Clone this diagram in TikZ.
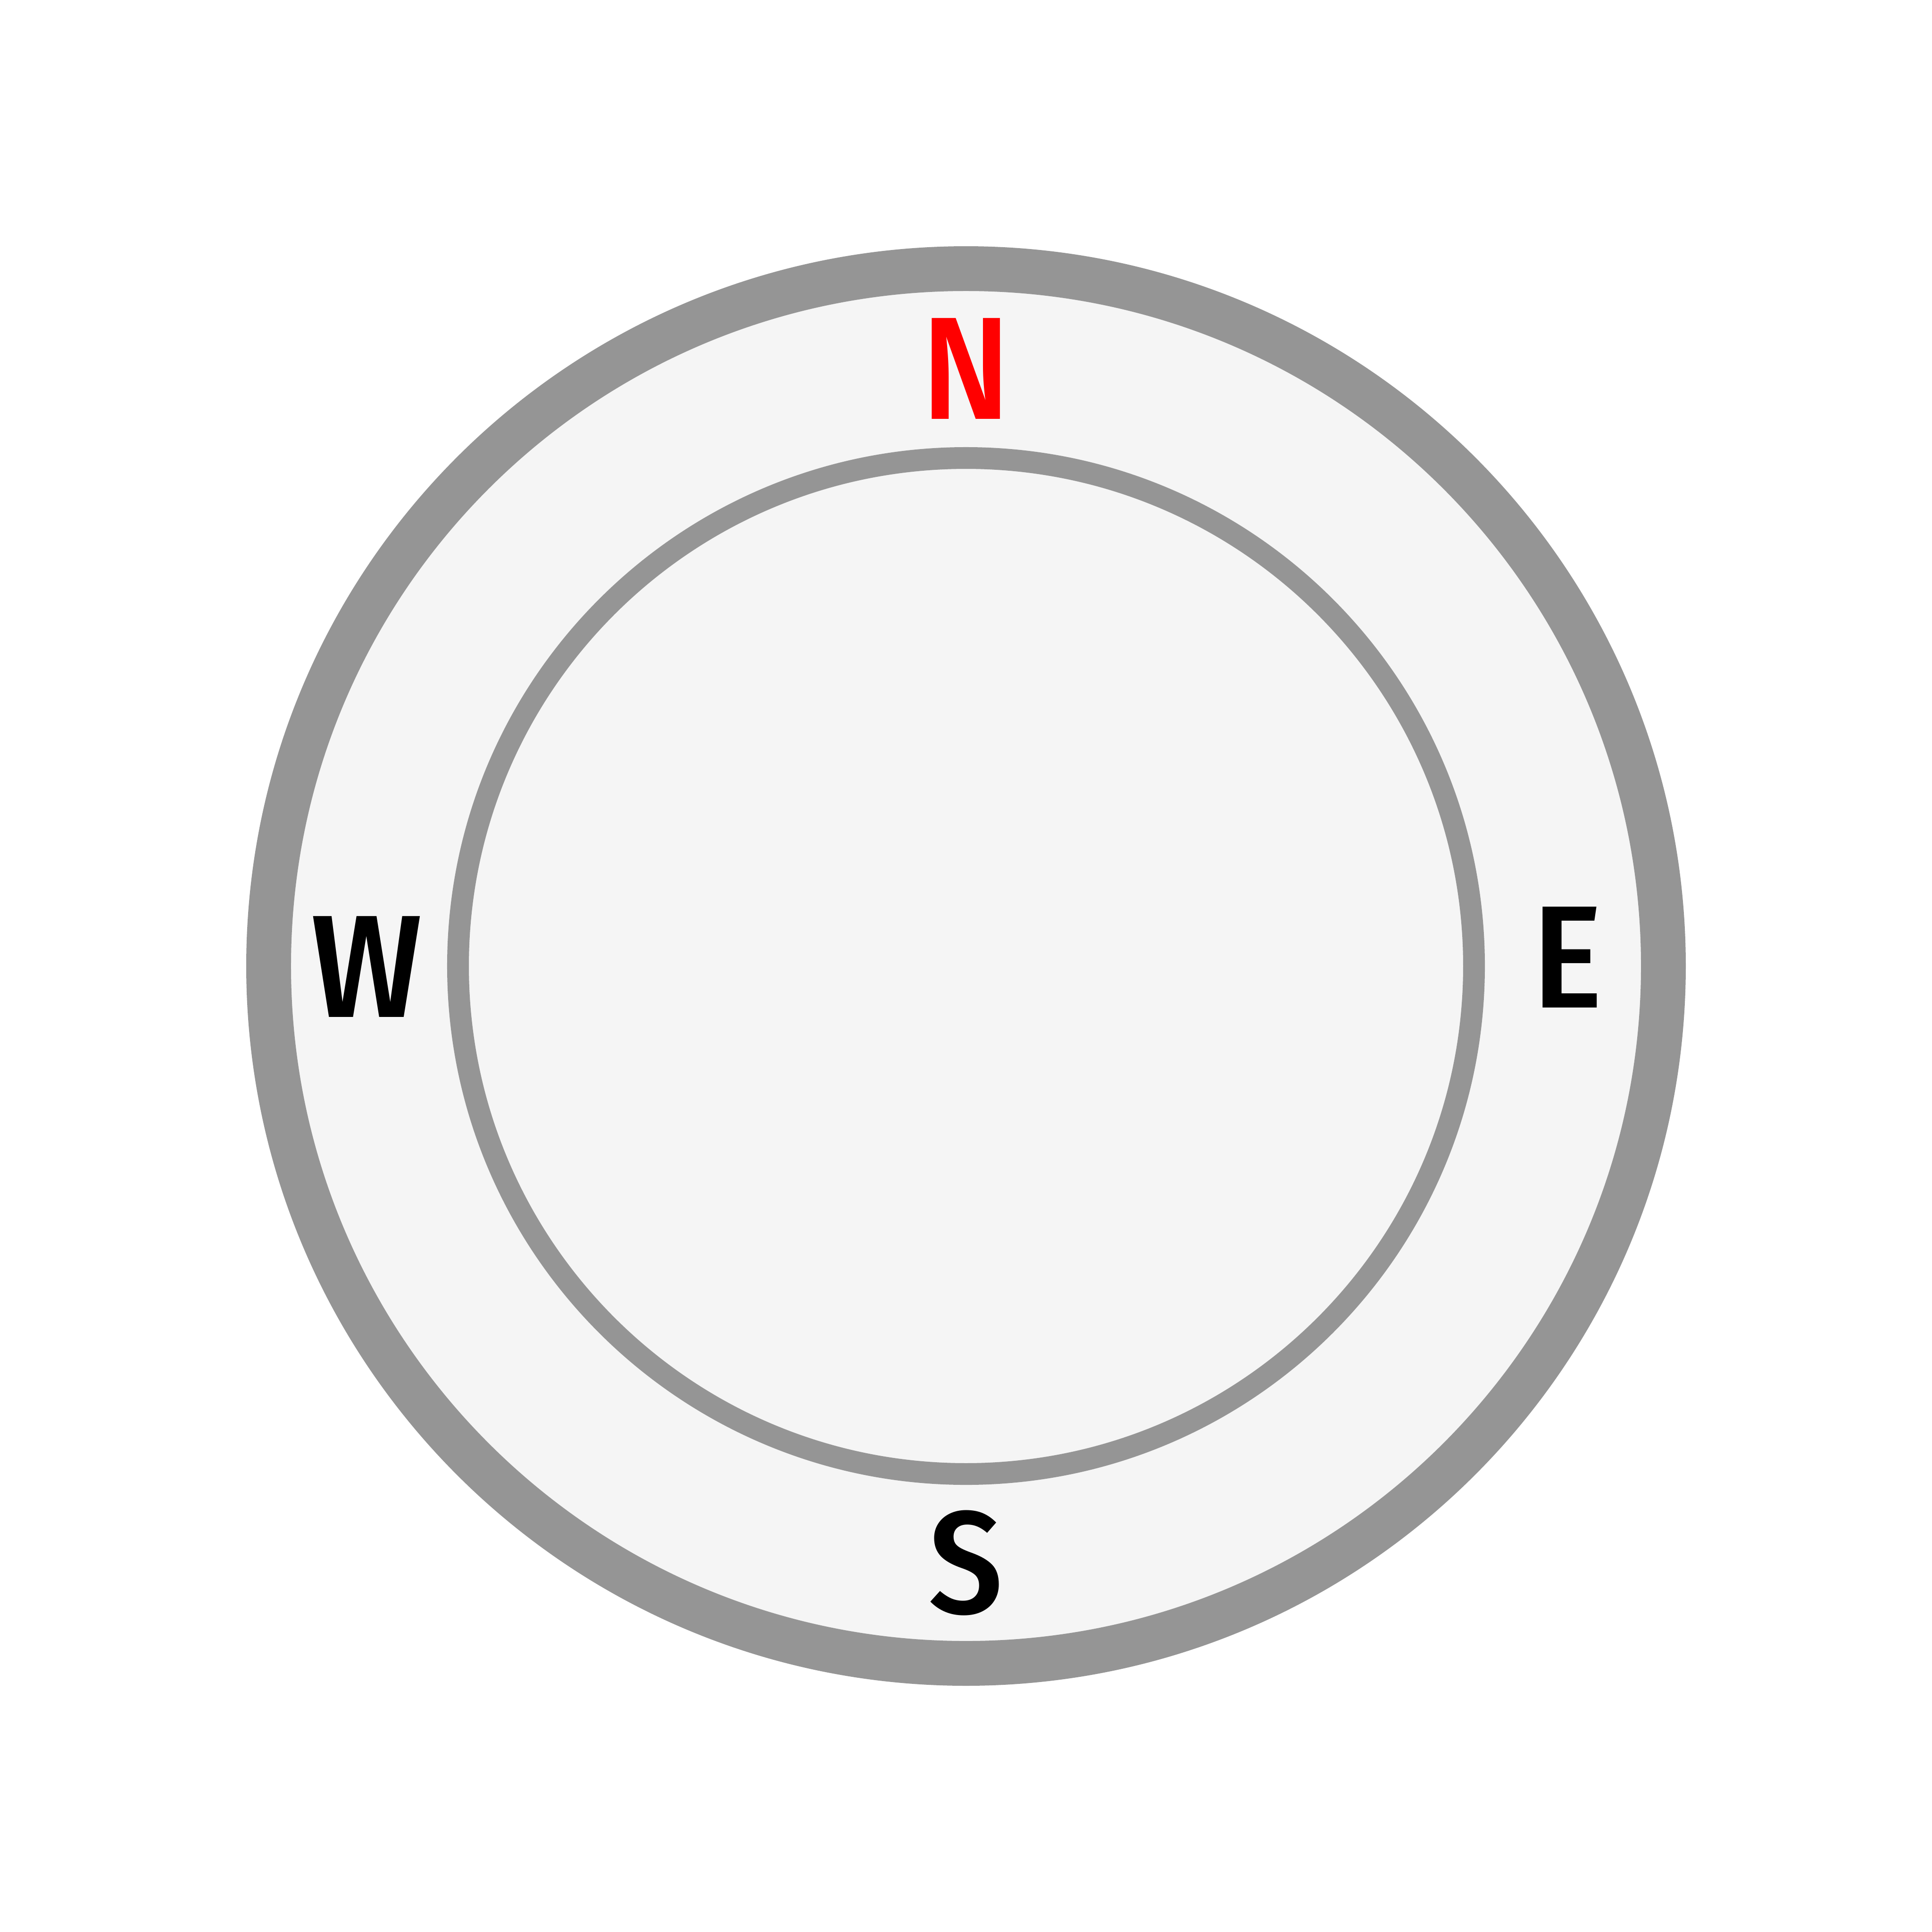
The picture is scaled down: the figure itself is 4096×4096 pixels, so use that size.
\documentclass[tikz,border=0pt]{standalone}
\usepackage{fontspec}
\setmainfont{Fira Sans}
\newfontfamily\labelfont{Fira Sans Condensed Medium}
\definecolor{ringgray}{HTML}{959595}
\definecolor{dialfill}{HTML}{F5F5F5}
\definecolor{northred}{HTML}{FF0000}
\begin{document}
\begin{tikzpicture}[x=0.01cm,y=-0.01cm,
  dirlabel/.style={inner sep=0pt, anchor=center, font=\labelfont\fontsize{88}{88}\selectfont}]
\useasboundingbox[fill=white] (0,0) rectangle (4096,4096);
\draw[ringgray, fill=dialfill, line width=27pt] (2048,2048) circle (1478.5);
\draw[ringgray, line width=13.1pt] (2048,2048) circle (1077);
\node[dirlabel, text=northred] (north) at (2048,782) {N};
\node[dirlabel] (west) at (777,2050) {W};
\node[dirlabel] (east) at (3323,2030) {E};
\node[dirlabel] (south) at (2048,3314) {S};
\end{tikzpicture}
\end{document}
